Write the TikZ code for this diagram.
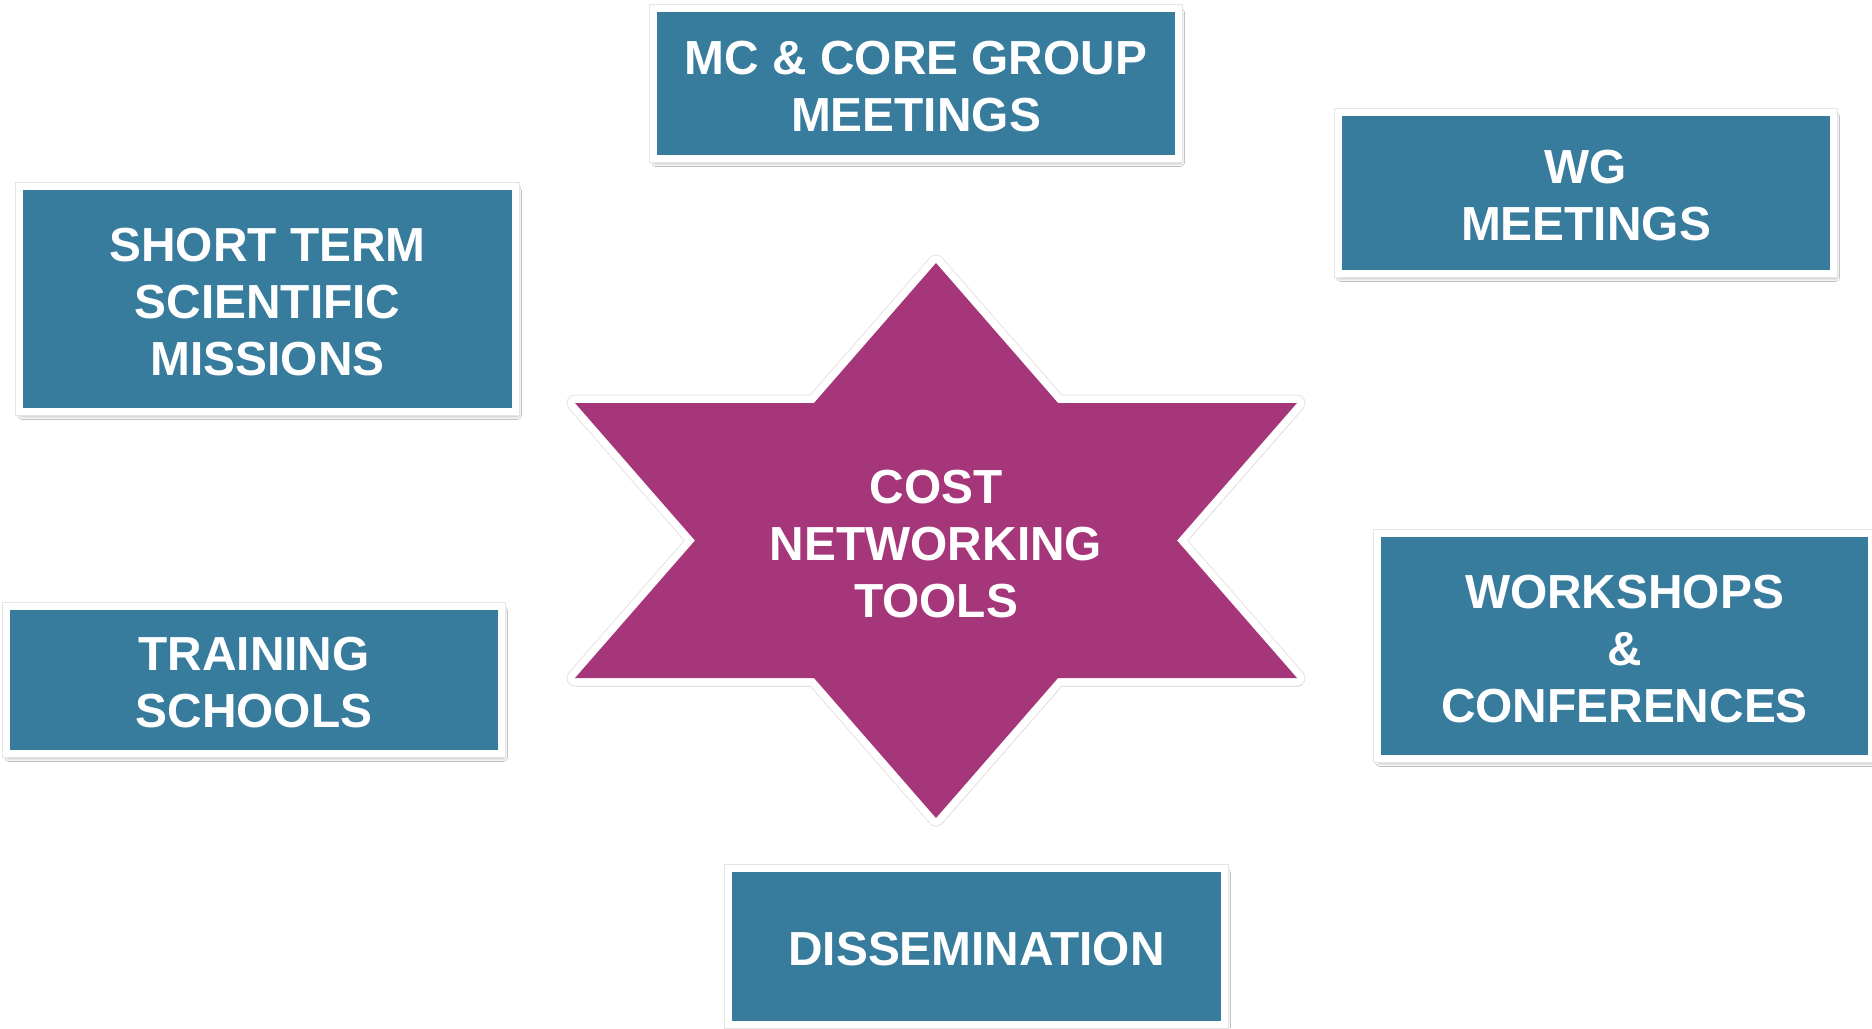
\documentclass[tikz,border=0pt]{standalone}
\usepackage{fontspec}
\setmainfont{Liberation Sans}
\usetikzlibrary{shadows.blur}
\definecolor{boxblue}{RGB}{55,123,157}
\definecolor{starpink}{RGB}{166,54,122}
\newcommand{\dnstrut}{\rule{0pt}{39bp}}
\begin{document}
\begin{tikzpicture}[x=1bp,y=-1bp,
  lbl/.style={text=white, font=\fontsize{48}{57}\selectfont\bfseries, align=center, inner sep=0pt},
  softshadow/.style={blur shadow={shadow xshift=2bp, shadow yshift=-4bp, shadow blur radius=4bp, shadow opacity=45}},
  tbox/.style={lbl, fill=boxblue, draw=white, line width=7bp, softshadow,
    preaction={draw=black!10, line width=9bp}},
]
\useasboundingbox[fill=white] (0,0) rectangle (1872,1028);
% star: white rim with shadow, then magenta fill
\def\starpath{(936,263) -- (1058,403) -- (1297,403) -- (1177,540.5) -- (1297,678) -- (1058,678)
  -- (936,818) -- (814,678) -- (575,678) -- (695,540.5) -- (575,403) -- (814,403) -- cycle}
\path[draw=black!10, fill=white, line width=17bp, line join=round, softshadow] \starpath;
\path[draw=white, line width=15bp, line join=round] \starpath;
\path[fill=starpink] \starpath;
\node[lbl, yshift=-3bp] (core) at (936,541) {COST\\NETWORKING\\TOOLS};
% boxes
\node[tbox, minimum width=525bp, minimum height=150bp] (mc) at (916,83.5) {\dnstrut MC \& CORE GROUP\\MEETINGS};
\node[tbox, minimum width=495bp, minimum height=161bp] (wg) at (1586,193) {\dnstrut WG\\MEETINGS};
\node[tbox, minimum width=496bp, minimum height=225bp] (stsm) at (267.5,299) {\dnstrut SHORT TERM\\SCIENTIFIC\\MISSIONS};
\node[tbox, minimum width=495bp, minimum height=147bp] (ts) at (254,680) {\dnstrut TRAINING\\SCHOOLS};
\node[tbox, minimum width=494bp, minimum height=225bp] (ws) at (1624.5,646) {\dnstrut WORKSHOPS\\\&\\CONFERENCES};
\node[tbox, minimum width=496bp, minimum height=156bp] (dis) at (976.5,946.5) {\dnstrut DISSEMINATION};
\end{tikzpicture}
\end{document}
